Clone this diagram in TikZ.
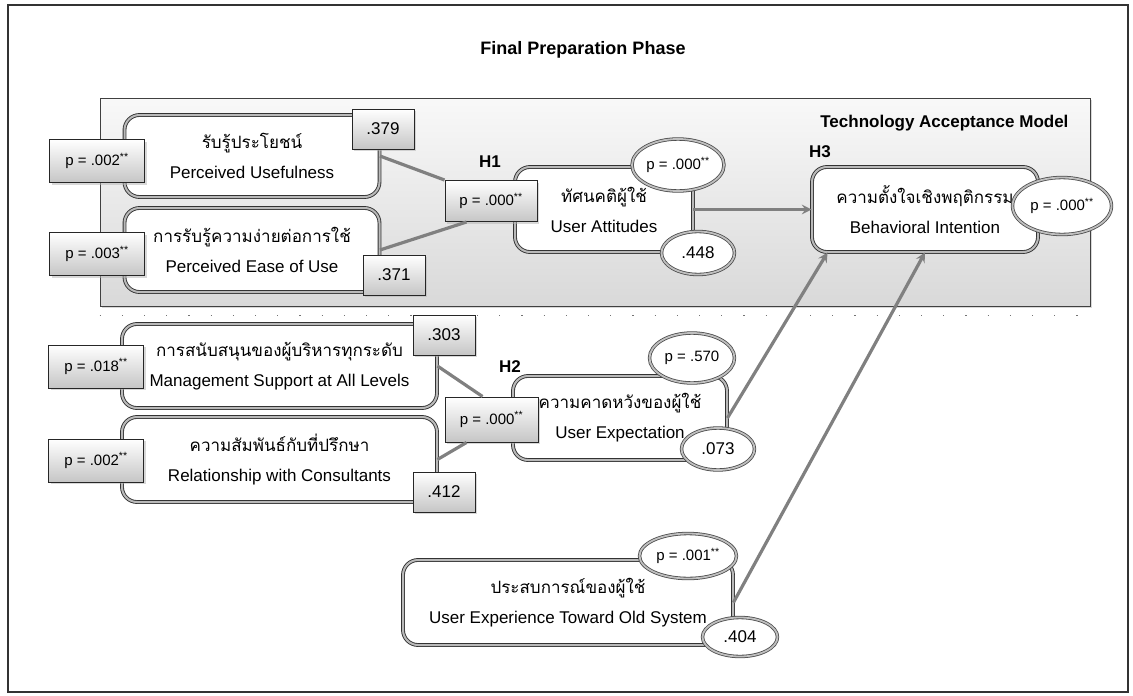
\documentclass[tikz,border=0pt]{standalone}
\usepackage{fontspec}
\setmainfont{Liberation Sans}
\newfontfamily\thaifont[Script=Thai]{Loma}
\usetikzlibrary{arrows,shapes.geometric,shadows}
\tikzstyle{construct} = [draw=black!80, double=gray!55, double distance=2pt, line width=0.9pt, rounded corners=15pt, fill=white, align=center, inner sep=0pt, font=\fontsize{17}{30}\selectfont]
\tikzstyle{valbox} = [rectangle, draw=black!85, line width=1pt, top color=white, bottom color=gray!45, drop shadow={shadow xshift=2pt, shadow yshift=-2pt, fill=gray!60}, minimum width=62pt, minimum height=40pt, inner sep=0pt, font=\fontsize{17}{19}\selectfont]
\tikzstyle{pbox} = [valbox, minimum width=95pt, minimum height=43pt, font=\fontsize{15}{17}\selectfont]
\tikzstyle{pell} = [ellipse, draw=black!70, double=gray!50, double distance=1.8pt, line width=0.8pt, fill=white, inner sep=0pt, font=\fontsize{15}{17}\selectfont]
\tikzstyle{link} = [draw=black!50, line width=3.2pt]
\tikzstyle{hyp} = [font=\bfseries\fontsize{17}{19}\selectfont]
\newcommand{\pv}[1]{p = #1\textsuperscript{**}}

\begin{document}
\begin{tikzpicture}[x=1pt,y=-1pt]
    \useasboundingbox (0,0) rectangle (1133,696);
    \draw[black!80, line width=2.8pt] (8,5) rectangle (1128,692);
    \node[font=\bfseries\fontsize{18}{20}\selectfont] (title) at (583,50) {Final Preparation Phase};

    % technology acceptance model
    \node[draw=black!75, line width=0.8pt, top color=gray!5, bottom color=gray!30, minimum width=990pt, minimum height=208pt, inner sep=0pt, drop shadow={shadow xshift=2pt, shadow yshift=-2pt, fill=gray!60}] (tam) at (595,202) {};
    \draw[black!55, line width=1.2pt, dash pattern=on 1.2pt off 21pt] ([yshift=-9pt]tam.south west) -- ([yshift=-9pt]tam.south east);
    \node[hyp, anchor=east] (tamlabel) at (1072,123) {Technology Acceptance Model};

    \node[construct, minimum width=255pt, minimum height=82pt] (pu) at (252,156) {{\thaifont รับรู้ประโยชน์}\\Perceived Usefulness};
    \node[construct, minimum width=255pt, minimum height=84pt] (peou) at (252,250) {{\thaifont การรับรู้ความง่ายต่อการใช้}\\Perceived Ease of Use};
    \node[construct, minimum width=178pt, minimum height=85pt] (ua) at (604,209.5) {{\thaifont ทัศนคติผู้ใช้}\\User Attitudes};
    \node[construct, minimum width=226pt, minimum height=85pt] (bi) at (925,209.5) {{\thaifont ความตั้งใจเชิงพฤติกรรม}\\Behavioral Intention};
    \node[construct, minimum width=315pt, minimum height=84pt] (ms) at (279.5,366) {{\thaifont การสนับสนุนของผู้บริหารทุกระดับ}\\Management Support at All Levels};
    \node[construct, minimum width=315pt, minimum height=85pt] (rc) at (279.5,459.5) {{\thaifont ความสัมพันธ์กับที่ปรึกษา}\\Relationship with Consultants};
    \node[construct, minimum width=214pt, minimum height=84pt] (ue) at (620,418) {{\thaifont ความคาดหวังของผู้ใช้}\\User Expectation};
    \node[construct, minimum width=330pt, minimum height=85pt] (ux) at (568,602.5) {{\thaifont ประสบการณ์ของผู้ใช้}\\User Experience Toward Old System};

    \node[hyp] (h1) at (490,162) {H1};
    \node[hyp] (h2) at (510,367) {H2};
    \node[hyp] (h3) at (820,152) {H3};

    % p values and weights
    \node[pbox] (ppu) at (97,161) {\pv{.002}};
    \node[pbox] (ppeou) at (97,254) {\pv{.003}};
    \node[pbox] (pms) at (96,366.5) {\pv{.018}};
    \node[pbox] (prc) at (96,460.5) {\pv{.002}};
    \node[pbox, minimum width=92pt, minimum height=41pt] (h1p) at (491,201) {\pv{.000}};
    \node[pbox, minimum width=93pt, minimum height=45pt] (h2p) at (491.5,419.5) {\pv{.000}};
    \node[valbox] (wpu) at (383,129) {.379};
    \node[valbox] (wpeou) at (394,275) {.371};
    \node[valbox] (wms) at (444,335) {.303};
    \node[valbox] (wrc) at (444,492) {.412};

    % paths
    \draw[link] (pu.east) -- (h1p.north west);
    \draw[link] (peou.east) -- ([xshift=22pt]h1p.south west);
    \draw[link] (ms.east) -- ([xshift=38pt]h2p.north west);
    \draw[link] (rc.east) -- ([xshift=22pt]h2p.south west);
    \draw[link,->,>=stealth] (ua.east) -- (bi.west);
    \draw[link,->,>=stealth] (ue.east) -- ([xshift=16pt]bi.south west);
    \draw[link,->,>=stealth] (ux.east) -- (bi.south);

    \node[pell, minimum width=92pt, minimum height=52pt] (pua) at (678,165) {\pv{.000}};
    \node[pell, minimum width=73pt, minimum height=43pt, font=\fontsize{17}{19}\selectfont] (rua) at (698,253) {.448};
    \node[pell, minimum width=99pt, minimum height=57pt] (pbi) at (1062,206) {\pv{.000}};
    \node[pell, minimum width=85pt, minimum height=50pt] (pue) at (692,358) {p = .570};
    \node[pell, minimum width=73pt, minimum height=42pt, font=\fontsize{17}{19}\selectfont] (rue) at (718,449) {.073};
    \node[pell, minimum width=97pt, minimum height=45pt] (pux) at (688,556) {\pv{.001}};
    \node[pell, minimum width=75pt, minimum height=39pt, font=\fontsize{17}{19}\selectfont] (rux) at (740,637) {.404};
\end{tikzpicture}
\end{document}
